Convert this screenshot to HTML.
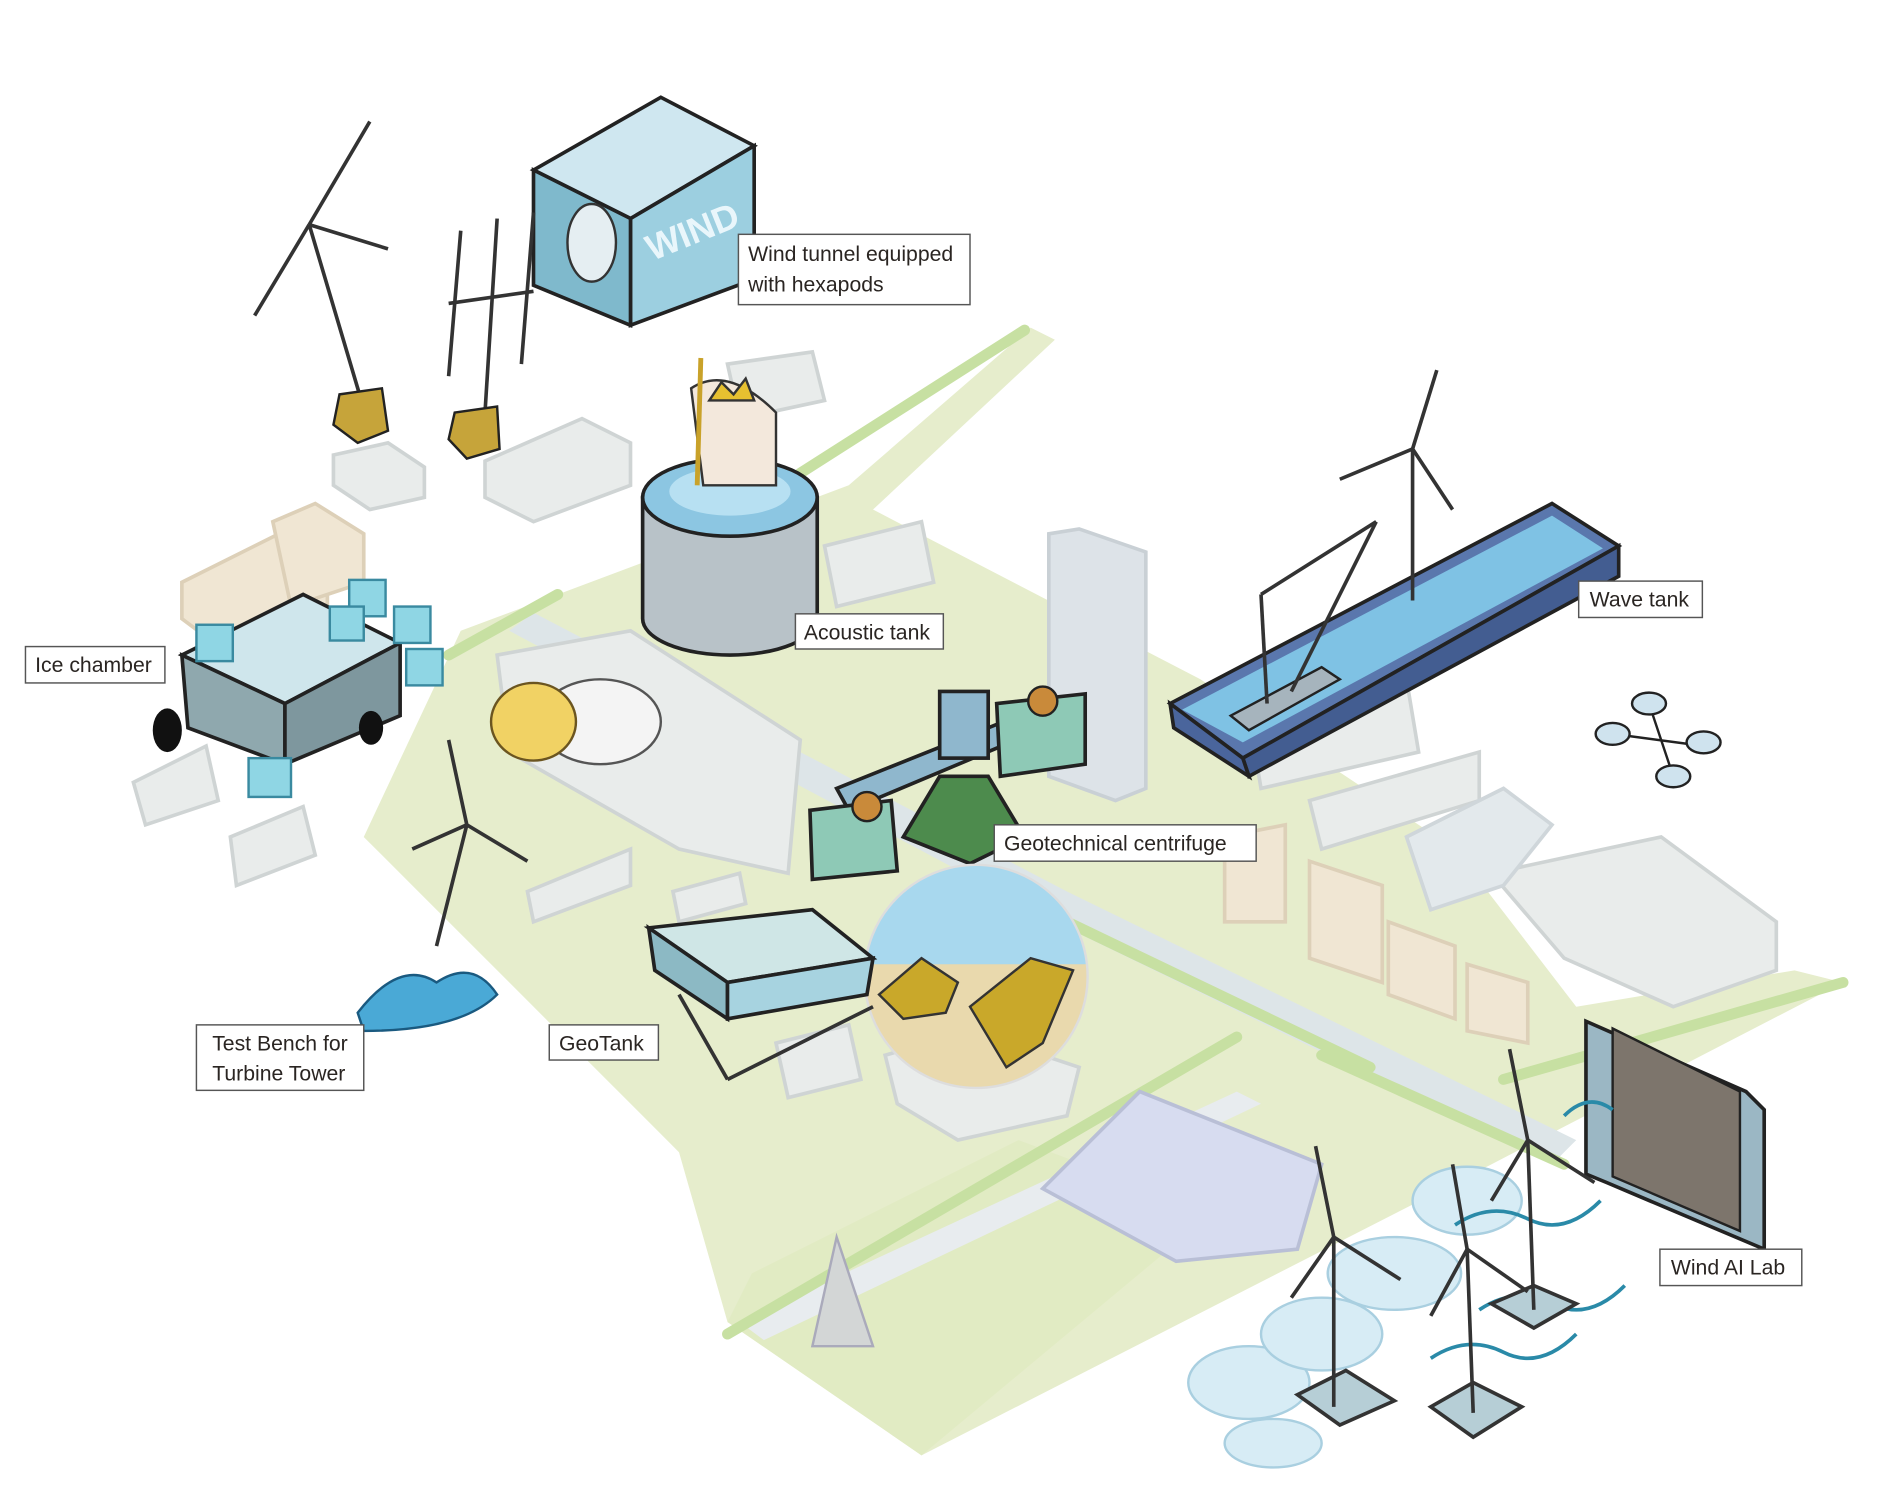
<!DOCTYPE html>
<html><head><meta charset="utf-8"><style>
html,body{margin:0;padding:0;background:#fff}
svg{display:block}
text{font-family:"Liberation Sans",sans-serif;fill:#2a2522}
</style></head><body>
<svg width="1900" height="1492" viewBox="0 0 1567 1230" xmlns="http://www.w3.org/2000/svg">
<rect width="1567" height="1230" fill="#fff"/>
<!-- ground -->
<polygon points="380,520 700,400 850,270 870,280 720,420 990,560 1200,700 1300,830 1480,800 1520,810 1230,960 760,1200 600,1090 560,950 300,690" fill="#e6edcc"/>
<polygon points="620,1050 840,940 1000,1000 760,1200 600,1090" fill="#e1ebc3"/>
<!-- roads -->
<polygon points="420,520 870,760 1280,960 1300,940 880,735 440,505" fill="#dde5e8"/>
<polygon points="610,1090 1020,900 1040,910 630,1105" fill="#e8ecef"/>
<!-- hedges -->
<g stroke="#c7e0a2" stroke-width="9" fill="none" stroke-linecap="round">
<path d="M660,390 L845,272"/><path d="M370,540 L460,490"/><path d="M880,760 L1130,880"/>
<path d="M1090,870 L1290,960"/><path d="M600,1100 L1020,855"/><path d="M1240,890 L1520,810"/>
</g>
<!-- grey buildings -->
<g fill="#e9eceb" stroke="#cfd4d4" stroke-width="3">
<polygon points="275,375 320,365 350,385 350,410 305,420 275,400"/>
<polygon points="400,380 480,345 520,365 520,400 440,430 400,410"/>
<polygon points="600,300 670,290 680,330 610,345"/>
<polygon points="110,645 170,615 180,660 120,680"/>
<polygon points="190,690 250,665 260,705 195,730"/>
<polygon points="435,735 520,700 520,730 440,760"/>
<polygon points="410,540 520,520 660,610 650,720 560,700 420,620"/>
<polygon points="680,450 760,430 770,480 690,500"/>
<polygon points="1030,590 1160,560 1170,620 1040,650"/>
<polygon points="1080,660 1220,620 1220,660 1090,700"/>
<polygon points="1230,720 1370,690 1465,760 1465,800 1380,830 1290,790"/>
<polygon points="730,870 800,850 890,880 880,920 790,940 740,910"/>
<polygon points="640,860 700,845 710,890 650,905"/>
<polygon points="555,735 610,720 615,745 560,760"/>
</g>
<polygon points="865,440 890,436 945,455 945,650 920,660 865,640" fill="#dde3e8" stroke="#c9d0d5" stroke-width="3"/>
<g fill="#f0e6d3" stroke="#ddd0b8" stroke-width="3">
<polygon points="150,480 230,440 270,480 270,520 190,540 150,510"/>
<polygon points="225,430 260,415 300,440 300,480 240,500"/>
<polygon points="1010,690 1060,680 1060,760 1010,760"/>
<polygon points="1080,710 1140,730 1140,810 1080,790"/>
<polygon points="1145,760 1200,780 1200,840 1145,820"/>
<polygon points="1210,795 1260,810 1260,860 1210,850"/>
</g>
<polygon points="1160,690 1240,650 1280,680 1240,730 1180,750" fill="#e3e9ec" stroke="#cfd6da" stroke-width="3"/>
<!-- factory -->
<polygon points="860,980 940,900 1090,960 1070,1030 970,1040" fill="#d7dcf0" stroke="#b9bfd6" stroke-width="3"/>
<polygon points="670,1110 690,1020 720,1110" fill="#d3d6d6" stroke="#aab" stroke-width="2"/>
<!-- wind tunnel -->
<polygon points="440,140 545,80 622,120 520,180" fill="#cfe7f0" stroke="#222" stroke-width="3"/>
<polygon points="520,180 622,120 622,230 520,268" fill="#9ccfe0" stroke="#222" stroke-width="3"/>
<polygon points="440,140 520,180 520,268 440,235" fill="#7fb9cc" stroke="#222" stroke-width="3"/>
<ellipse cx="488" cy="200" rx="20" ry="32" fill="#e5eef2" stroke="#333" stroke-width="2"/>
<text x="530" y="205" font-size="30" fill="#dff2f8" transform="rotate(-22 560 190)" style="fill:#e9f6fb;font-weight:bold">WIND</text>
<!-- turbines top -->
<g stroke="#333" stroke-width="3" fill="none">
<line x1="255" y1="185" x2="298" y2="330"/><line x1="255" y1="185" x2="305" y2="100"/><line x1="255" y1="185" x2="210" y2="260"/><line x1="255" y1="185" x2="320" y2="205"/>
<line x1="380" y1="190" x2="370" y2="310"/><line x1="410" y1="180" x2="400" y2="340"/><line x1="440" y1="175" x2="430" y2="300"/><line x1="370" y1="250" x2="440" y2="240"/>
</g>
<polygon points="280,325 315,320 320,355 295,365 275,350" fill="#c6a43a" stroke="#222" stroke-width="2"/>
<polygon points="375,340 410,335 412,370 385,378 370,362" fill="#c6a43a" stroke="#222" stroke-width="2"/>
<!-- acoustic tank -->
<path d="M530,410 L530,510 A72,30 0 0 0 674,510 L674,410 Z" fill="#b8c2c8" stroke="#222" stroke-width="3"/>
<ellipse cx="602" cy="410" rx="72" ry="32" fill="#8cc6e2" stroke="#222" stroke-width="3"/>
<ellipse cx="602" cy="405" rx="50" ry="20" fill="#b7e0f2"/>
<path d="M570,320 Q600,300 640,340 L640,400 L580,400 Z" fill="#f3e8dc" stroke="#333" stroke-width="2"/>
<polygon points="585,330 595,315 605,325 615,312 622,330" fill="#e6c030" stroke="#333" stroke-width="2"/>
<line x1="578" y1="295" x2="575" y2="400" stroke="#c9a22a" stroke-width="4"/>
<!-- ice chamber -->
<polygon points="150,540 250,490 330,530 235,580" fill="#cfe6ec" stroke="#222" stroke-width="3"/>
<polygon points="150,540 235,580 235,630 155,600" fill="#8fa8ae" stroke="#222" stroke-width="3"/>
<polygon points="235,580 330,530 330,590 235,630" fill="#7e979e" stroke="#222" stroke-width="3"/>
<g fill="#8fd6e4" stroke="#3a8aa0" stroke-width="2">
<rect x="162" y="515" width="30" height="30"/><rect x="288" y="478" width="30" height="30"/><rect x="325" y="500" width="30" height="30"/>
<rect x="335" y="535" width="30" height="30"/><rect x="205" y="625" width="35" height="32"/><rect x="272" y="500" width="28" height="28"/>
</g>
<ellipse cx="138" cy="602" rx="12" ry="18" fill="#111"/><ellipse cx="306" cy="600" rx="10" ry="14" fill="#111"/>
<!-- cloud face -->
<ellipse cx="495" cy="595" rx="50" ry="35" fill="#f4f4f4" stroke="#555" stroke-width="2"/>
<ellipse cx="440" cy="595" rx="35" ry="32" fill="#f1d264" stroke="#6b5520" stroke-width="2"/>
<!-- test bench turbine -->
<g stroke="#333" stroke-width="3" fill="none">
<line x1="385" y1="680" x2="360" y2="780"/><line x1="385" y1="680" x2="370" y2="610"/><line x1="385" y1="680" x2="435" y2="710"/><line x1="385" y1="680" x2="340" y2="700"/>
</g>
<path d="M295,835 Q330,790 360,810 Q390,790 410,820 Q380,850 300,850 Z" fill="#4aa9d6" stroke="#1a5a80" stroke-width="2"/>
<!-- centrifuge -->
<polygon points="745,690 775,640 815,640 845,690 800,712" fill="#4d8b4d" stroke="#222" stroke-width="3"/>
<polygon points="690,650 840,590 850,605 700,668" fill="#8fb7cd" stroke="#222" stroke-width="3"/>
<rect x="775" y="570" width="40" height="55" fill="#8fb7cd" stroke="#222" stroke-width="3"/>
<polygon points="668,668 735,660 740,718 670,725" fill="#8ec9b6" stroke="#222" stroke-width="3"/>
<polygon points="822,580 895,572 895,630 825,640" fill="#8ec9b6" stroke="#222" stroke-width="3"/>
<circle cx="715" cy="665" r="12" fill="#c98a3a" stroke="#222" stroke-width="2"/>
<circle cx="860" cy="578" r="12" fill="#c98a3a" stroke="#222" stroke-width="2"/>
<!-- circle inset -->
<clipPath id="cc"><circle cx="805" cy="805" r="92"/></clipPath>
<g clip-path="url(#cc)">
<rect x="700" y="700" width="220" height="220" fill="#a8d8ee"/>
<rect x="700" y="795" width="220" height="120" fill="#e9d9ad"/>
<polygon points="725,820 760,790 790,810 780,835 745,840" fill="#c9a82a" stroke="#333" stroke-width="2"/>
<polygon points="800,830 850,790 885,800 860,860 830,880" fill="#c9a82a" stroke="#333" stroke-width="2"/>
</g>
<circle cx="805" cy="805" r="92" fill="none" stroke="#ddd" stroke-width="2"/>
<!-- geotank -->
<polygon points="535,765 670,750 720,790 600,810" fill="#cfe6e6" stroke="#222" stroke-width="3"/>
<polygon points="535,765 600,810 600,840 540,800" fill="#8cb9c4" stroke="#222" stroke-width="3"/>
<polygon points="600,810 720,790 715,820 600,840" fill="#a7d3e0" stroke="#222" stroke-width="3"/>
<g stroke="#333" stroke-width="3"><line x1="560" y1="820" x2="600" y2="890"/><line x1="600" y1="890" x2="720" y2="830"/></g>
<!-- wave tank -->
<polygon points="965,580 1280,415 1335,450 1025,625" fill="#5a77ad" stroke="#222" stroke-width="3"/>
<polygon points="975,585 1280,425 1322,452 1025,612" fill="#7fc2e4"/>
<polygon points="1025,625 1335,450 1335,475 1030,640" fill="#435d91" stroke="#222" stroke-width="3"/>
<polygon points="965,580 1025,625 1030,640 968,600" fill="#4a659c" stroke="#222" stroke-width="3"/>
<polygon points="1015,590 1090,550 1105,560 1030,602" fill="#a6b4bd" stroke="#222" stroke-width="2"/>
<g stroke="#333" stroke-width="3" fill="none">
<line x1="1045" y1="580" x2="1040" y2="490"/><line x1="1040" y1="490" x2="1135" y2="430"/><line x1="1065" y1="570" x2="1135" y2="430"/>
<line x1="1165" y1="495" x2="1165" y2="370"/><line x1="1165" y1="370" x2="1185" y2="305"/><line x1="1165" y1="370" x2="1105" y2="395"/><line x1="1165" y1="370" x2="1198" y2="420"/>
</g>
<!-- drone -->
<g stroke="#222" stroke-width="2" fill="#cfe3ee">
<line x1="1330" y1="605" x2="1405" y2="615"/><line x1="1360" y1="580" x2="1380" y2="640"/>
<ellipse cx="1330" cy="605" rx="14" ry="9"/><ellipse cx="1360" cy="580" rx="14" ry="9"/><ellipse cx="1405" cy="612" rx="14" ry="9"/><ellipse cx="1380" cy="640" rx="14" ry="9"/>
</g>
<!-- wind AI lab -->
<polygon points="1308,842 1440,900 1455,915 1455,1030 1325,975 1308,968" fill="#9bb7c4" stroke="#222" stroke-width="3"/>
<polygon points="1330,848 1435,900 1435,1015 1330,970" fill="#7d756c" stroke="#222" stroke-width="2"/>
<!-- clouds lower right -->
<g fill="#d7ecf5" stroke="#a9cfe0" stroke-width="2">
<ellipse cx="1030" cy="1140" rx="50" ry="30"/><ellipse cx="1090" cy="1100" rx="50" ry="30"/><ellipse cx="1150" cy="1050" rx="55" ry="30"/>
<ellipse cx="1210" cy="990" rx="45" ry="28"/><ellipse cx="1050" cy="1190" rx="40" ry="20"/>
</g>
<g stroke="#2a8aa8" stroke-width="3" fill="none">
<path d="M1200,1010 q30,-20 60,-5 t60,-15"/><path d="M1220,1080 q30,-20 60,-5 t60,-15"/><path d="M1180,1120 q30,-20 60,-5 t60,-15"/><path d="M1290,920 q20,-20 40,-5"/>
</g>
<!-- turbines lower right -->
<g stroke="#333" stroke-width="3" fill="#eee">
<polygon points="1070,1150 1110,1130 1150,1155 1105,1175" fill="#b6ced6"/>
<polygon points="1180,1160 1215,1140 1255,1160 1215,1185" fill="#b6ced6"/>
<polygon points="1230,1075 1265,1060 1300,1075 1265,1095" fill="#b6ced6"/>
<line x1="1100" y1="1160" x2="1100" y2="1020"/><line x1="1100" y1="1020" x2="1085" y2="945"/><line x1="1100" y1="1020" x2="1155" y2="1055"/><line x1="1100" y1="1020" x2="1065" y2="1070"/>
<line x1="1215" y1="1165" x2="1210" y2="1030"/><line x1="1210" y1="1030" x2="1198" y2="960"/><line x1="1210" y1="1030" x2="1260" y2="1065"/><line x1="1210" y1="1030" x2="1180" y2="1085"/>
<line x1="1265" y1="1080" x2="1260" y2="940"/><line x1="1260" y1="940" x2="1245" y2="865"/><line x1="1260" y1="940" x2="1315" y2="975"/><line x1="1260" y1="940" x2="1230" y2="990"/>
</g>
<!-- labels -->
<g fill="#fff" stroke="#555" stroke-width="1.2">
<rect x="609" y="193" width="191" height="58"/>
<rect x="656" y="506" width="122" height="29"/>
<rect x="1302" y="479" width="102" height="30"/>
<rect x="21" y="533" width="115" height="30"/>
<rect x="820" y="680" width="216" height="30"/>
<rect x="162" y="845" width="138" height="54"/>
<rect x="453" y="845" width="90" height="29"/>
<rect x="1369" y="1030" width="117" height="30"/>
</g>
<g font-size="17.5">
<text x="617" y="215">Wind tunnel equipped</text>
<text x="617" y="240">with hexapods</text>
<text x="663" y="527">Acoustic tank</text>
<text x="1311" y="500">Wave tank</text>
<text x="29" y="554">Ice chamber</text>
<text x="828" y="701">Geotechnical centrifuge</text>
<text x="175" y="866">Test Bench for</text>
<text x="175" y="891">Turbine Tower</text>
<text x="461" y="866">GeoTank</text>
<text x="1378" y="1051">Wind AI Lab</text>
</g>
</svg>
</body></html>
